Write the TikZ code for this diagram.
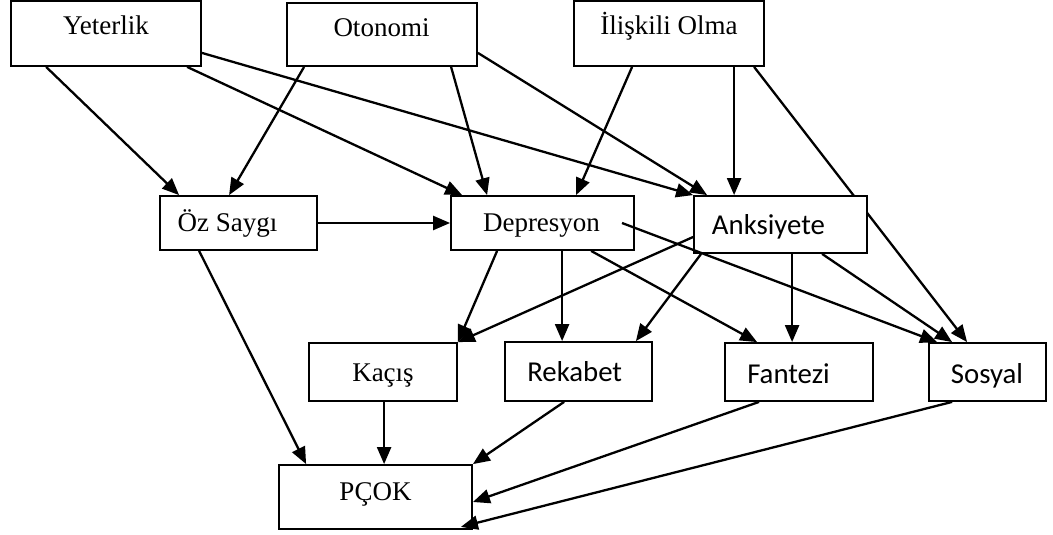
\documentclass[tikz,border=0pt]{standalone}
\usepackage{fontspec}
\setmainfont{Liberation Serif}
\newfontfamily\calib{Carlito}
\usetikzlibrary{arrows.meta,backgrounds}
\begin{document}
\begin{tikzpicture}[x=1pt,y=-1pt,
  box/.style={draw=black,line width=1.8pt,fill=white,rectangle,inner sep=0pt},
  tms/.style={anchor=base,inner sep=0pt,font=\fontsize{27}{32}\selectfont},
  clb/.style={anchor=base,inner sep=0pt,font=\calib\fontsize{28.8}{34}\selectfont},
  arr/.style={line width=2.3pt,-{Triangle[length=17pt,width=14pt]}},
  ln/.style={line width=2.3pt}]
\useasboundingbox (0,0) rectangle (1053,535);
% boxes
\node[box,minimum width=190pt,minimum height=65pt] (yet) at (106,33.5) {};
\node[box,minimum width=190pt,minimum height=63pt] (oto) at (382,34.5) {};
\node[box,minimum width=190pt,minimum height=65pt] (ili) at (669,33.5) {};
\node[box,minimum width=157pt,minimum height=54pt] (oz) at (238.5,223) {};
\node[box,minimum width=183pt,minimum height=54pt] (dep) at (542.5,223) {};
\node[box,minimum width=173pt,minimum height=57pt] (ank) at (780.5,224.5) {};
\node[box,minimum width=148pt,minimum height=58pt] (kac) at (383,372) {};
\node[box,minimum width=147pt,minimum height=59pt] (rek) at (578.5,371.5) {};
\node[box,minimum width=148pt,minimum height=58pt] (fan) at (799,372) {};
\node[box,minimum width=117pt,minimum height=58pt] (sos) at (987.5,372) {};
\node[box,minimum width=193pt,minimum height=64pt] (pcok) at (375.5,497) {};
% texts
\node[tms] (yetT) at (106,35) {Yeterlik};
\node[tms] (otoT) at (381.5,37) {Otonomi};
\node[tms] (iliT) at (669,35) {İlişkili Olma};
\node[tms] (ozT) at (227.5,231) {Öz Saygı};
\node[tms] (depT) at (541.5,231) {Depresyon};
\node[clb] (ankT) at (768.5,234) {Anksiyete};
\node[tms] (kacT) at (383,381) {Kaçış};
\node[clb] (rekT) at (574.7,381) {Rekabet};
\node[tms] (pcokT) at (375.5,500) {PÇOK};
\node[clb] (fanT) at (788.5,383) {Fantezi};
\node[clb] (sosT) at (987,383) {Sosyal};
% connector hidden behind Anksiyete
\begin{pgfonlayer}{background}
\draw[arr] ([xshift=181pt]ili.south west) -- ([xshift=39pt]sos.north west);
\end{pgfonlayer}
% connectors
\draw[arr] ([xshift=36pt]yet.south west) -- ([xshift=20pt]oz.north west);
\draw[arr] ([xshift=177pt]yet.south west) -- ([xshift=12pt]dep.north west);
\draw[arr] ([yshift=14pt]yet.south east) -- (ank.north west);
\draw[arr] ([xshift=18pt]oto.south west) -- ([xshift=70pt]oz.north west);
\draw[arr] ([xshift=165pt]oto.south west) -- ([xshift=37pt]dep.north west);
\draw[arr] ([yshift=14pt]oto.south east) -- ([xshift=14pt]ank.north west);
\draw[arr] ([xshift=59pt]ili.south west) -- ([xshift=126pt]dep.north west);
\draw[arr] ([xshift=161pt]ili.south west) -- ([xshift=41pt]ank.north west);
\draw[arr] (oz.east) -- (dep.west);
\draw[arr] ([xshift=40pt]oz.south west) -- ([xshift=28pt]pcok.north west);
\draw[arr] ([xshift=47pt]dep.south west) -- (kac.north east);
\draw[arr] ([yshift=-12.5pt]ank.west) -- (kac.north east);
\draw[arr] ([xshift=112pt]dep.south west) -- ([xshift=58pt]rek.north west);
\draw[arr] ([xshift=141pt]dep.south west) -- ([xshift=33pt]fan.north west);
\draw[arr] ([xshift=79.5pt]dep.center) -- ([xshift=9pt]sos.north west);
\draw[arr] ([xshift=8pt]ank.south west) -- ([xshift=-17pt]rek.north east);
\draw[arr] ([xshift=99pt]ank.south west) -- ([xshift=68pt]fan.north west);
\draw[arr] ([xshift=129pt]ank.south west) -- ([xshift=24pt]sos.north west);
\draw[arr] ([xshift=76pt]kac.south west) -- ([xshift=106pt]pcok.north west);
\draw[arr] ([xshift=60pt]rek.south west) -- (pcok.north east);
\draw[arr] ([xshift=35pt]fan.south west) -- ([yshift=-5pt]pcok.east);
\draw[arr] ([xshift=24pt]sos.south west) -- ([xshift=-12pt,yshift=3pt]pcok.south east);
\end{tikzpicture}
\end{document}
